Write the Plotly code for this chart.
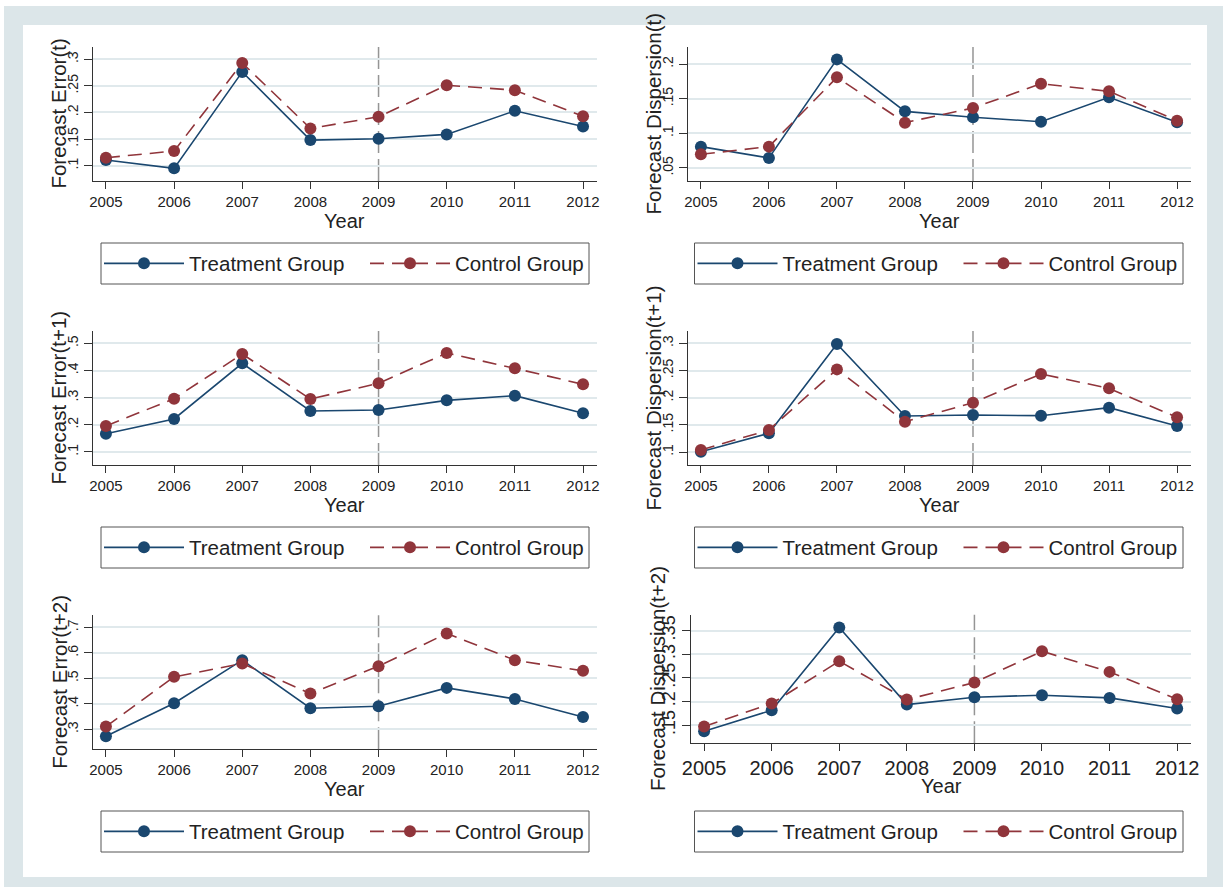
import plotly.graph_objects as go

# ---------------- data ----------------
years = [2005, 2006, 2007, 2008, 2009, 2010, 2011, 2012]
event_year = 2009
series_names = ["Treatment Group", "Control Group"]
y_titles = ["Forecast Error(t)", "Forecast Dispersion(t)",
            "Forecast Error(t+1)", "Forecast Dispersion(t+1)",
            "Forecast Error(t+2)", "Forecast Dispersion(t+2)"]

treat_err_t = [0.1106, 0.0950, 0.2763, 0.1481, 0.1506, 0.1588, 0.2031, 0.1738]
ctrl_err_t = [0.1150, 0.1275, 0.2931, 0.1700, 0.1919, 0.2513, 0.2419, 0.1931]
treat_disp_t = [0.0808, 0.0644, 0.2067, 0.1317, 0.1231, 0.1168, 0.1519, 0.1159]
ctrl_disp_t = [0.0697, 0.0808, 0.1808, 0.1154, 0.1365, 0.1716, 0.1606, 0.1183]
treat_err_t1 = [0.1675, 0.2215, 0.4264, 0.2509, 0.2546, 0.2902, 0.3074, 0.2423]
ctrl_err_t1 = [0.1957, 0.2963, 0.4607, 0.2951, 0.3528, 0.4644, 0.4080, 0.3491]
treat_disp_t1 = [0.1006, 0.1344, 0.2988, 0.1663, 0.1681, 0.1669, 0.1816, 0.1479]
ctrl_disp_t1 = [0.1037, 0.1405, 0.2521, 0.1558, 0.1908, 0.2436, 0.2172, 0.1638]
treat_err_t2 = [0.2725, 0.4023, 0.5715, 0.3826, 0.3905, 0.4626, 0.4193, 0.3485]
ctrl_err_t2 = [0.3105, 0.5059, 0.5584, 0.4403, 0.5479, 0.6764, 0.5715, 0.5295]
treat_disp_t2 = [0.1373, 0.1817, 0.3563, 0.1937, 0.2092, 0.2134, 0.2077, 0.1852]
ctrl_disp_t2 = [0.1472, 0.1958, 0.2852, 0.2042, 0.2401, 0.3063, 0.2627, 0.2049]

ytick_vals = [
    [0.1, 0.15, 0.2, 0.25, 0.3],
    [0.05, 0.1, 0.15, 0.2],
    [0.1, 0.2, 0.3, 0.4, 0.5],
    [0.1, 0.15, 0.2, 0.25, 0.3],
    [0.3, 0.4, 0.5, 0.6, 0.7],
    [0.15, 0.2, 0.25, 0.3, 0.35],
]
ytick_text = [
    [".1", ".15", ".2", ".25", ".3"],
    [".05", ".1", ".15", ".2"],
    [".1", ".2", ".3", ".4", ".5"],
    [".1", ".15", ".2", ".25", ".3"],
    [".3", ".4", ".5", ".6", ".7"],
    [".15", ".2", ".25", ".3", ".35"],
]
y_ranges = [
    [0.0712, 0.3237],
    [0.0312, 0.2250],
    [0.0521, 0.5466],
    [0.0761, 0.3233],
    [0.2214, 0.7500],
    [0.1118, 0.3835],
]
treat_all = [treat_err_t, treat_disp_t, treat_err_t1, treat_disp_t1, treat_err_t2, treat_disp_t2]
ctrl_all = [ctrl_err_t, ctrl_disp_t, ctrl_err_t1, ctrl_disp_t1, ctrl_err_t2, ctrl_disp_t2]

# ---------------- layout helpers ----------------
W, H = 1227, 890
def px(x):
    return x / W
def py(y):
    return 1 - y / H

# plot areas in pixels: (left, right, top, bottom)
areas = [
    (92.7, 597, 46.7, 181),
    (687.7, 1191, 46.7, 181),
    (92.7, 597, 330.7, 465),
    (687.7, 1191, 330.7, 465),
    (92.7, 597, 614.7, 749.3),
    (691, 1191, 614.7, 743.3),
]
xtick_font = [15, 15, 15, 15, 15, 20]
ytick_font = [14, 14, 14, 14, 14, 18]
legend_rows = [263.5, 263.5, 547.5, 547.5, 831.5, 831.5]
legend_box_x = [(101, 589), (694.5, 1183)] * 3

NAVY = "#1a476f"
MAROON = "#90353b"
GRID = "#e0e9ec"
FRAME = "#dce6e9"
TXT = "#222222"
FONT = "Liberation Sans, Arial, sans-serif"

fig = go.Figure()
shapes = []
annotations = []

# outer frame
shapes.append(dict(type="rect", xref="paper", yref="paper", x0=px(4), x1=px(1223), y0=py(887), y1=py(6),
                   fillcolor=FRAME, line=dict(width=0), layer="below"))
shapes.append(dict(type="rect", xref="paper", yref="paper", x0=px(23), x1=px(1207), y0=py(877), y1=py(25),
                   fillcolor="white", line=dict(width=0), layer="below"))

layout_axes = {}
for i in range(6):
    k = "" if i == 0 else str(i + 1)
    leg = "legend" if i == 0 else "legend" + str(i + 1)
    l, r, t, b = areas[i]
    fig.add_trace(go.Scatter(
        x=years, y=treat_all[i], name=series_names[0], mode="lines+markers",
        line=dict(color=NAVY, width=1.6), marker=dict(color=NAVY, size=12),
        xaxis="x" + k, yaxis="y" + k, legend=leg))
    fig.add_trace(go.Scatter(
        x=years, y=ctrl_all[i], name=series_names[1], mode="lines+markers",
        line=dict(color=MAROON, width=1.6, dash="14px,8px"), marker=dict(color=MAROON, size=12),
        xaxis="x" + k, yaxis="y" + k, legend=leg))

    layout_axes["xaxis" + k] = dict(
        domain=[px(l), px(r)], anchor="y" + k, range=[2004.806, 2012.205],
        tickvals=years, ticktext=[str(y) for y in years],
        ticks="outside", ticklen=7, tickcolor="#333", tickwidth=1,
        showline=True, linecolor="#333", linewidth=1, showgrid=False, zeroline=False,
        tickfont=dict(size=xtick_font[i], color=TXT, family=FONT), fixedrange=True)
    layout_axes["yaxis" + k] = dict(
        domain=[py(b), py(t)], anchor="x" + k, range=y_ranges[i],
        tickvals=ytick_vals[i], ticktext=ytick_text[i], tickangle=-90,
        ticks="outside", ticklen=8, tickcolor="#333", tickwidth=1,
        showline=True, linecolor="#333", linewidth=1,
        showgrid=True, gridcolor=GRID, gridwidth=1.5, zeroline=False,
        tickfont=dict(size=ytick_font[i], color=TXT, family=FONT), fixedrange=True)

    # vertical dashed reference line
    shapes.append(dict(type="line", xref="x" + k, yref="y" + k + " domain" if k else "y domain",
                       x0=event_year, x1=event_year, y0=0, y1=1,
                       line=dict(color="#959595", width=1.5, dash="22px,6px"), layer="below"))

    # axis titles
    annotations.append(dict(text=y_titles[i], textangle=-90, xref="paper", yref="paper",
                            x=px(l - 34), y=py((t + b) / 2), xanchor="center", yanchor="middle",
                            showarrow=False, font=dict(size=20.5, color=TXT, family=FONT)))
    annotations.append(dict(text="Year", xref="paper", yref="paper",
                            x=px((l + r) / 2), y=py(b + (43 if i == 5 else 40)),
                            xanchor="center", yanchor="middle",
                            showarrow=False, font=dict(size=20, color=TXT, family=FONT)))

    # legend box
    bx0, bx1 = legend_box_x[i]
    ym = legend_rows[i]
    shapes.append(dict(type="rect", xref="paper", yref="paper", x0=px(bx0), x1=px(bx1),
                       y0=py(ym + 20.5), y1=py(ym - 20.5), line=dict(color="#555", width=1),
                       fillcolor="rgba(0,0,0,0)"))
    layout_axes[leg] = dict(
        x=px(bx0 - 2), y=py(ym), xanchor="left", yanchor="middle", orientation="h",
        font=dict(size=20.5, color=TXT, family=FONT), bgcolor="rgba(0,0,0,0)", borderwidth=0,
        entrywidth=171, entrywidthmode="pixels", itemwidth=80, itemclick=False, itemdoubleclick=False)

fig.update_layout(
    width=W, height=H, margin=dict(l=0, r=0, t=0, b=0, autoexpand=False),
    paper_bgcolor="white", plot_bgcolor="white",
    shapes=shapes, annotations=annotations, showlegend=True,
    **layout_axes)

fig.write_html("out.html", config={"displayModeBar": False},
               post_script="document.body.style.margin='0px';")
